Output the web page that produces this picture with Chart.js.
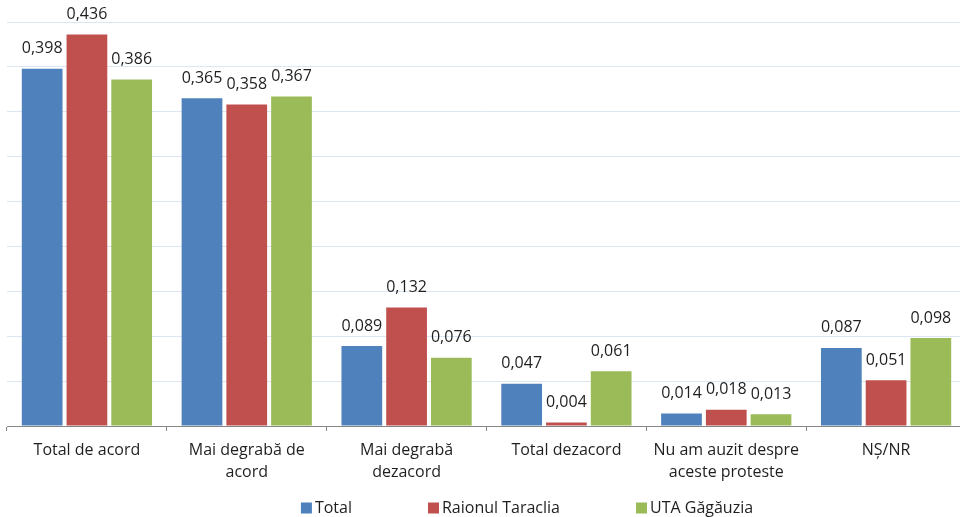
<!DOCTYPE html>
<html>
<head>
<meta charset="utf-8">
<script src="https://cdn.jsdelivr.net/npm/chart.js@4/dist/chart.umd.min.js"></script>
<style>
    html, body { margin: 0; padding: 0; background: #ffffff; overflow: hidden; }
    #wrap { width: 966px; height: 517px; }
</style>
</head>
<body>
<div id="wrap"><canvas id="chart-protest"></canvas></div>
<script>
//Answer categories and shares per group
const categories = [
    "Total de acord",
    ["Mai degrabă de", "acord"],
    ["Mai degrabă", "dezacord"],
    "Total dezacord",
    ["Nu am auzit despre", "aceste proteste"],
    "NȘ/NR"
];
const seriesNames = ["Total", "Raionul Taraclia", "UTA Găgăuzia"];
const totalValues = [0.398, 0.365, 0.089, 0.047, 0.014, 0.087];
const taracliaValues = [0.436, 0.358, 0.132, 0.004, 0.018, 0.051];
const gagauziaValues = [0.386, 0.367, 0.076, 0.061, 0.013, 0.098];

const colors = ["#4F81BD", "#C0504D", "#9BBB59"];
const textColor = "#1f1f1f";
const fontFamily = "'Open Sans', sans-serif";

//Formats shares with a decimal comma
function fmt(v){
    return v.toFixed(3).replace(".", ",");
}

//Draws the value above each bar
const valueLabels = {
    id: "valueLabels",
    afterDatasetsDraw(chart){
        let ctx = chart.ctx;
        ctx.save();
        ctx.font = "16px " + fontFamily;
        ctx.fillStyle = textColor;
        ctx.textAlign = "center";
        ctx.textBaseline = "middle";
        chart.data.datasets.forEach((ds, di) => {
            chart.getDatasetMeta(di).data.forEach((bar, i) => {
                ctx.fillText(fmt(ds.data[i]), bar.x, bar.y - 20);
            });
        });
        ctx.restore();
    }
};

//Legend along the bottom, wide gaps between items
const bottomLegend = {
    id: "bottomLegend",
    afterDraw(chart){
        let ctx = chart.ctx,
            box = 11, gap = 3, spacing = 76,
            y = 507, center = 527;
        ctx.save();
        ctx.font = "16px " + fontFamily;
        ctx.textBaseline = "middle";
        ctx.textAlign = "left";
        let items = chart.data.datasets.map(ds => ({
            label: ds.label,
            color: ds.backgroundColor,
            w: box + gap + ctx.measureText(ds.label).width
        }));
        let total = items.reduce((s, it) => s + it.w, 0) + spacing * (items.length - 1);
        let x = center - total / 2;
        items.forEach(it => {
            ctx.fillStyle = it.color;
            ctx.fillRect(x, y - box / 2 + 1, box, box);
            ctx.fillStyle = textColor;
            ctx.fillText(it.label, x + box + gap, y + 1);
            x += it.w + spacing;
        });
        ctx.restore();
    }
};

const seriesData = [totalValues, taracliaValues, gagauziaValues];

new Chart("chart-protest", {
    type: "bar",
    data: {
        labels: categories,
        datasets: seriesData.map((d, i) => ({
            label: seriesNames[i],
            data: d,
            backgroundColor: colors[i],
            borderWidth: 0,
            barPercentage: 0.91,
            categoryPercentage: 0.84,
        })),
    },
    options: {
        responsive: true,
        maintainAspectRatio: false,
        animation: false,
        layout: {
            padding: { left: 7, right: 0, top: 22, bottom: 0 },
        },
        plugins: {
            legend: { display: false },
            tooltip: { enabled: false },
        },
        scales: {
            x: {
                grid: {
                    display: true,
                    drawOnChartArea: false,
                    drawTicks: true,
                    tickLength: 5,
                    color: "#868686",
                },
                border: { display: true, color: "#868686", width: 1 },
                ticks: {
                    color: textColor,
                    padding: 8,
                    maxRotation: 0,
                    autoSkip: false,
                    font: { family: fontFamily, size: 16, lineHeight: 1.4 },
                },
                afterFit: s => { s.height = 91; },
            },
            y: {
                min: 0,
                max: 0.45,
                ticks: { display: false, stepSize: 0.05 },
                grid: { color: "#DCE6F2", lineWidth: 1, drawTicks: false },
                border: { display: false },
            },
        },
    },
    plugins: [valueLabels, bottomLegend],
});
</script>
</body>
</html>
